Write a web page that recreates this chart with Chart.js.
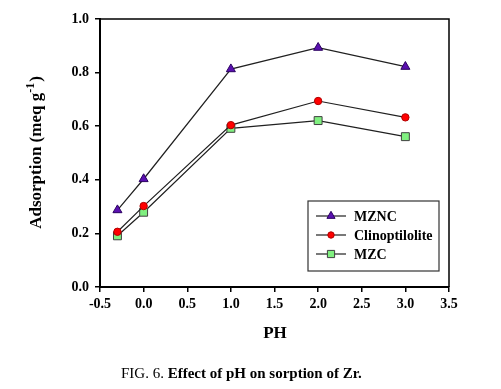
<!DOCTYPE html>
<html>
<head>
<meta charset="utf-8">
<script src="https://cdn.jsdelivr.net/npm/chart.js@4.4.0/dist/chart.umd.min.js"></script>
<style>
  html, body { margin: 0; padding: 0; background: #fff; }
  #wrap { width: 501px; height: 389px; position: relative; }
</style>
</head>
<body>
<div id="wrap"><canvas id="chart" width="501" height="389"></canvas></div>
<script>
// datos
const phValues = [-0.3, 0.0, 1.0, 2.0, 3.0];
const mzncValues = [0.287, 0.403, 0.813, 0.893, 0.822];
const clinoValues = [0.206, 0.302, 0.604, 0.694, 0.633];
const mzcValues = [0.191, 0.279, 0.592, 0.621, 0.561];
const seriesNames = ['MZNC', 'Clinoptilolite', 'MZC'];
const xTicks = [-0.5, 0.0, 0.5, 1.0, 1.5, 2.0, 2.5, 3.0, 3.5];
const yTicks = [0.0, 0.2, 0.4, 0.6, 0.8, 1.0];

const serif = '"Liberation Serif", "Times New Roman", serif';

function toPoints(ys) {
    return phValues.map((x, i) => ({ x: x, y: ys[i] }));
}

const styles = [
    { pointStyle: 'triangle', bg: '#5a10b0', border: '#2a0060', radius: 5.2 },
    { pointStyle: 'circle', bg: '#ff0000', border: '#b00000', radius: 3.7 },
    { pointStyle: 'rect', bg: '#80f080', border: '#404040', radius: 5.6 }
];

const allValues = [mzncValues, clinoValues, mzcValues];
const datasets = allValues.map((vals, i) => ({
    label: seriesNames[i],
    data: toPoints(vals),
    showLine: true,
    borderColor: '#202020',
    borderWidth: 1.2,
    pointStyle: styles[i].pointStyle,
    pointBackgroundColor: styles[i].bg,
    pointBorderColor: styles[i].border,
    pointBorderWidth: 1,
    pointRadius: styles[i].radius,
    tension: 0
}));

// marco, titulos, leyenda y pie de figura
const extras = {
    id: 'extras',
    afterDraw(chart) {
        const ctx = chart.ctx;
        const a = chart.chartArea;
        ctx.save();
        ctx.strokeStyle = '#000';
        ctx.lineWidth = 1.5;
        ctx.beginPath();
        ctx.moveTo(a.left, a.top);
        ctx.lineTo(a.right, a.top);
        ctx.lineTo(a.right, a.bottom);
        ctx.stroke();

        // leyenda
        const lx = 308, ly = 201, lw = 131, lh = 70;
        ctx.fillStyle = '#fff';
        ctx.fillRect(lx, ly, lw, lh);
        ctx.strokeStyle = '#333';
        ctx.lineWidth = 1.2;
        ctx.strokeRect(lx, ly, lw, lh);
        const rows = [216, 235, 254];
        ctx.font = 'bold 14px ' + serif;
        ctx.textBaseline = 'middle';
        ctx.textAlign = 'left';
        rows.forEach((ry, i) => {
            ctx.strokeStyle = '#202020';
            ctx.lineWidth = 1.2;
            ctx.beginPath();
            ctx.moveTo(316, ry);
            ctx.lineTo(346, ry);
            ctx.stroke();
            ctx.fillStyle = styles[i].bg;
            ctx.strokeStyle = styles[i].border;
            ctx.lineWidth = 1;
            Chart.helpers.drawPoint(ctx, {
                pointStyle: styles[i].pointStyle,
                radius: styles[i].radius - 0.5,
                borderWidth: 1
            }, 331, ry);
            ctx.fillStyle = '#000';
            ctx.fillText(seriesNames[i], 354, ry + 1);
        });

        // titulo eje x
        ctx.fillStyle = '#000';
        ctx.font = 'bold 17px ' + serif;
        ctx.textAlign = 'center';
        ctx.fillText('PH', 275, 334);

        // titulo eje y con superindice
        ctx.save();
        ctx.translate(37, 153);
        ctx.rotate(-Math.PI / 2);
        const main = 'Adsorption (meq g';
        const sup = '-1';
        const close = ')';
        ctx.font = 'bold 17px ' + serif;
        const wMain = ctx.measureText(main).width;
        const wClose = ctx.measureText(close).width;
        ctx.font = 'bold 12px ' + serif;
        const wSup = ctx.measureText(sup).width;
        let x0 = -(wMain + wSup + wClose) / 2;
        ctx.textAlign = 'left';
        ctx.font = 'bold 17px ' + serif;
        ctx.fillText(main, x0, 0);
        ctx.font = 'bold 12px ' + serif;
        ctx.fillText(sup, x0 + wMain, -6);
        ctx.font = 'bold 17px ' + serif;
        ctx.fillText(close, x0 + wMain + wSup + 1, 0);
        ctx.restore();

        // pie de figura
        const cap1 = 'FIG. 6. ';
        const cap2 = 'Effect of pH on sorption of Zr.';
        ctx.textAlign = 'left';
        ctx.font = '15px ' + serif;
        const w1 = ctx.measureText(cap1).width;
        ctx.fillText(cap1, 121, 374);
        ctx.font = 'bold 15px ' + serif;
        ctx.fillText(cap2, 121 + w1, 374);
        ctx.restore();
    }
};

new Chart(document.getElementById('chart'), {
    type: 'scatter',
    data: { datasets: datasets },
    options: {
        responsive: false,
        animation: false,
        clip: false,
        layout: { padding: { left: 0, right: 52, top: 19, bottom: 72 } },
        plugins: {
            legend: { display: false },
            tooltip: { enabled: false }
        },
        scales: {
            x: {
                type: 'linear',
                min: -0.5,
                max: 3.5,
                afterBuildTicks: (scale) => { scale.ticks = xTicks.map(v => ({ value: v })); },
                afterFit: (scale) => { scale.height = 30; },
                ticks: {
                    color: '#000',
                    font: { family: serif, size: 14, weight: 'bold' },
                    padding: 4,
                    maxRotation: 0,
                    callback: (v) => v.toFixed(1)
                },
                grid: { drawOnChartArea: false, drawTicks: true, tickLength: 5, color: '#000', lineWidth: 1.5 },
                border: { color: '#000', width: 2 }
            },
            y: {
                min: 0,
                max: 1.0,
                afterBuildTicks: (scale) => { scale.ticks = yTicks.map(v => ({ value: v })); },
                afterFit: (scale) => { scale.width = 100; },
                ticks: {
                    color: '#000',
                    font: { family: serif, size: 14, weight: 'bold' },
                    padding: 6,
                    callback: (v) => v.toFixed(1)
                },
                grid: { drawOnChartArea: false, drawTicks: true, tickLength: 5, color: '#000', lineWidth: 1.5 },
                border: { color: '#000', width: 2 }
            }
        }
    },
    plugins: [extras]
});
</script>
</body>
</html>
